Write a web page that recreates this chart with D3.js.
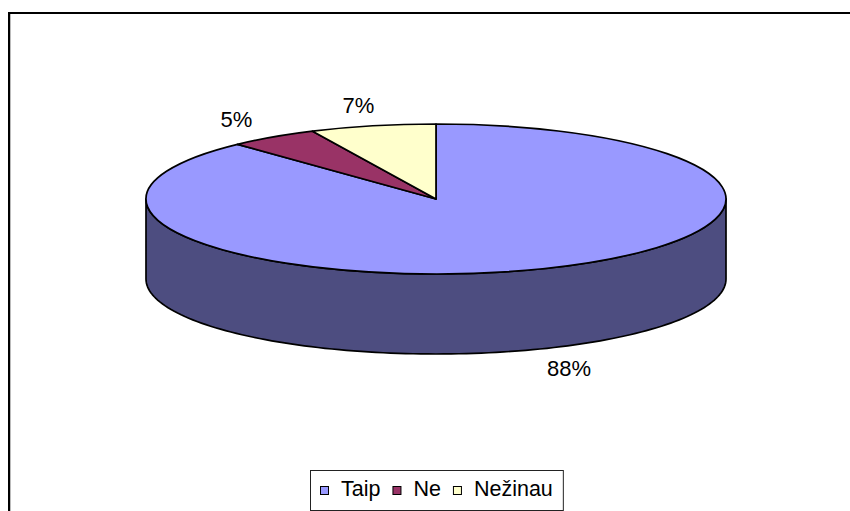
<!DOCTYPE html>
<html>
<head>
<meta charset="utf-8">
<script src="https://cdn.jsdelivr.net/npm/d3@7/dist/d3.min.js"></script>
<style>
  html, body { margin: 0; padding: 0; background: #fff; }
  svg { display: block; font-family: "Liberation Sans", Arial, sans-serif; }
</style>
</head>
<body>
<svg id="chart" width="850" height="511"></svg>
<script>
// Survey answers and their shares (%)
const categories = ["Taip", "Ne", "Nežinau"];
const values = [88, 5, 7];
const labels = ["88%", "5%", "7%"];

const topColors = ["#9999FF", "#993366", "#FFFFCC"];
const sideColors = ["#4D4D80", "#4D1A33", "#808066"];

const W = 850, H = 511;
const cx = 436, cy = 199, rx = 290, ry = 75, depth = 80;

const svg = d3.select("#chart");

// outer frame
svg.append("rect")
  .attr("x", 9).attr("y", 13)
  .attr("width", W + 10).attr("height", H + 10)
  .attr("fill", "#fff").attr("stroke", "#000").attr("stroke-width", 2);
svg.append("line")
  .attr("x1", 10.5).attr("x2", 10.5).attr("y1", 14).attr("y2", H)
  .attr("stroke", "#bbb").attr("stroke-width", 1);

const pie = d3.pie().sort(null).value(d => d)(values);

// point on the top ellipse at pie angle a (0 = 12 o'clock, clockwise)
const px = (a, k = 1) => cx + rx * k * Math.sin(a);
const py = (a, k = 1) => cy - ry * k * Math.cos(a);

const strokeW = 1.7;

// outer wall: only the front half (angles PI/2 .. 3PI/2) is visible
const wall = svg.append("g");
pie.forEach((s, i) => {
  const a0 = Math.max(s.startAngle, Math.PI / 2);
  const a1 = Math.min(s.endAngle, 3 * Math.PI / 2);
  if (a1 <= a0) return;
  const p = d3.path();
  p.moveTo(px(a0), py(a0));
  const steps = 120;
  for (let j = 1; j <= steps; j++) {
    const a = a0 + (a1 - a0) * j / steps;
    p.lineTo(px(a), py(a));
  }
  for (let j = steps; j >= 0; j--) {
    const a = a0 + (a1 - a0) * j / steps;
    p.lineTo(px(a), py(a) + depth);
  }
  p.closePath();
  wall.append("path")
    .attr("d", p.toString())
    .attr("fill", sideColors[i])
    .attr("stroke", "#000")
    .attr("stroke-width", strokeW)
    .attr("stroke-linejoin", "round");
});

// top face: a flat pie squashed into an ellipse
const arc = d3.arc().innerRadius(0).outerRadius(rx);
svg.append("g")
  .attr("transform", `translate(${cx},${cy}) scale(1,${ry / rx})`)
  .selectAll("path")
  .data(pie)
  .join("path")
  .attr("d", arc)
  .attr("fill", (d, i) => topColors[i])
  .attr("stroke", "#000")
  .attr("stroke-width", strokeW)
  .attr("stroke-linejoin", "round")
  .attr("vector-effect", "non-scaling-stroke");

// percentage labels outside the slices
const fs = 22;
const k = 1.17;
const lbl = svg.append("g").attr("font-size", fs).attr("fill", "#000");
pie.forEach((s, i) => {
  const a = (s.startAngle + s.endAngle) / 2;
  const front = Math.cos(a) < 0 ? depth : 0;
  const t = lbl.append("text")
    .attr("text-anchor", "middle")
    .attr("dominant-baseline", "central")
    .text(labels[i]);
  const w = t.node().getComputedTextLength();
  const h = fs * 0.75;
  const x = px(a, k) + Math.sin(a) * w / 2;
  const y = py(a, k) + front - Math.cos(a) * h / 2;
  t.attr("x", x).attr("y", y);
});

// legend
const lg = svg.append("g").attr("font-size", 21.5);
const box = lg.append("rect")
  .attr("fill", "#fff").attr("stroke", "#222").attr("stroke-width", 1);
const sw = 8, padL = 10, gapT = 13, gapI = 12, baseY = 496;
let xc = 0;
const items = [];
categories.forEach((c, i) => {
  const sq = lg.append("rect")
    .attr("width", sw).attr("height", sw)
    .attr("fill", topColors[i]).attr("stroke", "#000").attr("stroke-width", 1);
  const tx = lg.append("text").text(c).attr("fill", "#000");
  const tw = tx.node().getComputedTextLength();
  items.push({ sq, tx, x: xc, tw });
  xc += sw + gapT + tw + gapI;
});
const total = padL * 2 + xc - gapI;
const left = Math.round((cx + 0.5) - total / 2);
items.forEach(it => {
  it.sq.attr("x", left + padL + it.x + 0.5).attr("y", 486.5);
  it.tx.attr("x", left + padL + it.x + sw + gapT).attr("y", baseY);
});
box.attr("x", left + 0.5).attr("y", 470.5)
  .attr("width", total).attr("height", 40);
</script>
</body>
</html>
